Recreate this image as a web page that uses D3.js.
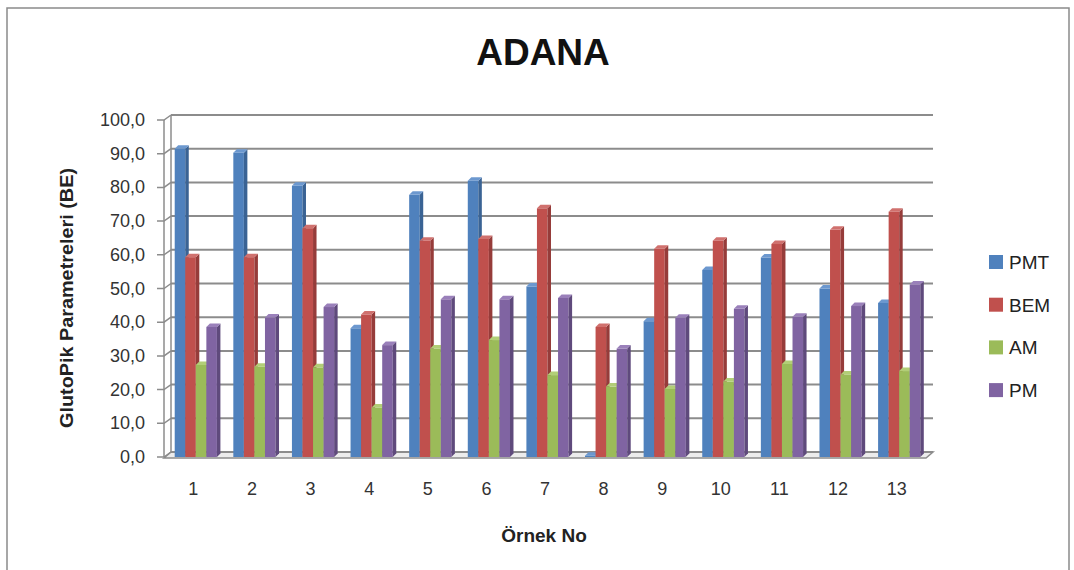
<!DOCTYPE html>
<html>
<head>
<meta charset="utf-8">
<script src="https://cdn.jsdelivr.net/npm/d3@7"></script>
<style>
  body { margin: 0; background: #fff; }
  svg text { font-family: "Liberation Sans", Arial, sans-serif; }
</style>
</head>
<body>
<svg id="chart"></svg>
<script>
// Chart data
const categories = ["1", "2", "3", "4", "5", "6", "7", "8", "9", "10", "11", "12", "13"];
const seriesNames = ["PMT", "BEM", "AM", "PM"];
const pmt = [91.5, 90.3, 80.5, 38.2, 77.8, 82.0, 50.6, 0.4, 40.3, 55.5, 59.2, 50.0, 45.7];
const bem = [59.3, 59.3, 67.9, 42.3, 64.2, 64.7, 73.8, 38.6, 61.8, 64.2, 63.2, 67.4, 72.8];
const am = [27.3, 26.8, 26.6, 14.7, 32.2, 34.7, 24.3, 20.9, 20.2, 22.4, 27.6, 24.5, 25.5];
const pm = [38.6, 41.4, 44.5, 33.2, 46.8, 46.8, 47.2, 32.2, 41.3, 44.0, 41.6, 44.8, 51.2];
const yTicks = [0, 10, 20, 30, 40, 50, 60, 70, 80, 90, 100];

const width = 1074;
const height = 570;

const colors = ["#4F81BD", "#C0504D", "#9BBB59", "#8064A2"];
const sideColors = ["#3A6394", "#963C3A", "#76913F", "#5F4A7C"];
const topColors = ["#6C98CF", "#D0716E", "#B2CE77", "#9A80BA"];

const svg = d3.select("#chart")
    .attr("width", width)
    .attr("height", height);

// chart frame
svg.append("rect")
    .attr("x", 7).attr("y", 8)
    .attr("width", 1062).attr("height", 600)
    .attr("fill", "none")
    .attr("stroke", "#8a8a8a")
    .attr("stroke-width", 1.5);

// 3d geometry: front plane and back wall
const frontLeft = 164, frontRight = 926;
const depthX = 7, depthY = -5;

const x0 = d3.scaleBand()
    .domain(categories)
    .range([frontLeft, frontRight])
    .paddingInner(0.28)
    .paddingOuter(0.14);

const x1 = d3.scaleBand()
    .domain(seriesNames)
    .range([0, x0.bandwidth()]);

const yFront = d3.scaleLinear().domain([0, 100]).range([457, 120]);
const yBack = v => yFront(v) + depthY;

// floor
const floor = d3.path();
floor.moveTo(frontLeft, yFront(0) + 1);
floor.lineTo(frontLeft + depthX, yBack(0));
floor.lineTo(frontRight + depthX, yBack(0));
floor.lineTo(frontRight, yFront(0) + 1);
floor.closePath();
svg.append("path")
    .attr("d", floor.toString())
    .attr("fill", "#ececec")
    .attr("stroke", "#8c8c8c")
    .attr("stroke-width", 1.5);

// back wall gridlines
svg.append("g")
    .selectAll("line")
    .data(yTicks)
    .join("line")
    .attr("x1", frontLeft + depthX)
    .attr("x2", frontRight + depthX)
    .attr("y1", d => yBack(d))
    .attr("y2", d => yBack(d))
    .attr("stroke", "#8c8c8c")
    .attr("stroke-width", 2);

// left side wall edges + axis
const axisG = svg.append("g");
axisG.append("line")
    .attr("x1", frontLeft).attr("x2", frontLeft)
    .attr("y1", yFront(0)).attr("y2", yFront(100))
    .attr("stroke", "#8c8c8c").attr("stroke-width", 1.5);
axisG.append("line")
    .attr("x1", frontLeft + depthX).attr("x2", frontLeft + depthX)
    .attr("y1", yBack(0)).attr("y2", yBack(100))
    .attr("stroke", "#8c8c8c").attr("stroke-width", 1.5);
axisG.selectAll(".edge")
    .data(yTicks)
    .join("path")
    .attr("class", "edge")
    .attr("d", d => `M${frontLeft - 7},${yFront(d)}L${frontLeft},${yFront(d)}L${frontLeft + depthX},${yBack(d)}`)
    .attr("fill", "none")
    .attr("stroke", "#8c8c8c")
    .attr("stroke-width", 1.5);
axisG.selectAll(".ylab")
    .data(yTicks)
    .join("text")
    .attr("class", "ylab")
    .attr("x", 145)
    .attr("y", d => yFront(d) + 6)
    .attr("text-anchor", "end")
    .attr("font-size", 18)
    .attr("fill", "#333")
    .text(d => d3.format(".1f")(d).replace(".", ","));

// bars, drawn left to right so faces overlap properly
const barData = [];
categories.forEach((c, i) => {
    [pmt, bem, am, pm].forEach((vals, s) => {
        barData.push({ cat: c, s: s, value: vals[i] });
    });
});

const bw = x1.bandwidth();
const dx = 3.5, dy = -3.5;
const shift = 2.5; // bars sit a little behind the front plane

const bars = svg.append("g")
    .attr("transform", `translate(${shift},0)`)
    .selectAll("g")
    .data(barData)
    .join("g");

bars.append("rect")
    .attr("x", d => x0(d.cat) + x1(seriesNames[d.s]))
    .attr("y", d => yFront(d.value))
    .attr("width", bw)
    .attr("height", d => yFront(0) - yFront(d.value))
    .attr("fill", d => colors[d.s]);

bars.append("path")
    .attr("d", d => {
        const xr = x0(d.cat) + x1(seriesNames[d.s]) + bw;
        const yt = yFront(d.value), yb = yFront(0);
        return `M${xr},${yt}L${xr + dx},${yt + dy}L${xr + dx},${yb + dy}L${xr},${yb}Z`;
    })
    .attr("fill", d => sideColors[d.s]);

bars.append("path")
    .attr("d", d => {
        const xl = x0(d.cat) + x1(seriesNames[d.s]);
        const yt = yFront(d.value);
        return `M${xl},${yt}L${xl + dx},${yt + dy}L${xl + bw + dx},${yt + dy}L${xl + bw},${yt}Z`;
    })
    .attr("fill", d => topColors[d.s]);

// category labels
svg.append("g")
    .selectAll("text")
    .data(categories)
    .join("text")
    .attr("x", d => x0(d) + x0.bandwidth() / 2)
    .attr("y", 495)
    .attr("text-anchor", "middle")
    .attr("font-size", 18)
    .attr("fill", "#333")
    .text(d => d);

// titles
svg.append("text")
    .attr("x", 543).attr("y", 65)
    .attr("text-anchor", "middle")
    .attr("font-size", 37)
    .attr("font-weight", "bold")
    .attr("fill", "#111")
    .text("ADANA");

svg.append("text")
    .attr("x", 544).attr("y", 542)
    .attr("text-anchor", "middle")
    .attr("font-size", 19)
    .attr("font-weight", "bold")
    .attr("fill", "#222")
    .text("Örnek No");

svg.append("text")
    .attr("transform", "translate(73,298) rotate(-90)")
    .attr("text-anchor", "middle")
    .attr("font-size", 18)
    .attr("font-weight", "bold")
    .attr("fill", "#222")
    .attr("textLength", 260)
    .attr("lengthAdjust", "spacingAndGlyphs")
    .text("GlutoPik Parametreleri (BE)");

// legend
const legend = svg.append("g")
    .selectAll("g")
    .data(seriesNames)
    .join("g")
    .attr("transform", (d, i) => `translate(989,${255 + i * 42.7})`);

legend.append("rect")
    .attr("width", 14).attr("height", 14)
    .attr("fill", (d, i) => colors[i]);

legend.append("text")
    .attr("x", 20).attr("y", 14)
    .attr("font-size", 19)
    .attr("fill", "#222")
    .text(d => d);
</script>
</body>
</html>
